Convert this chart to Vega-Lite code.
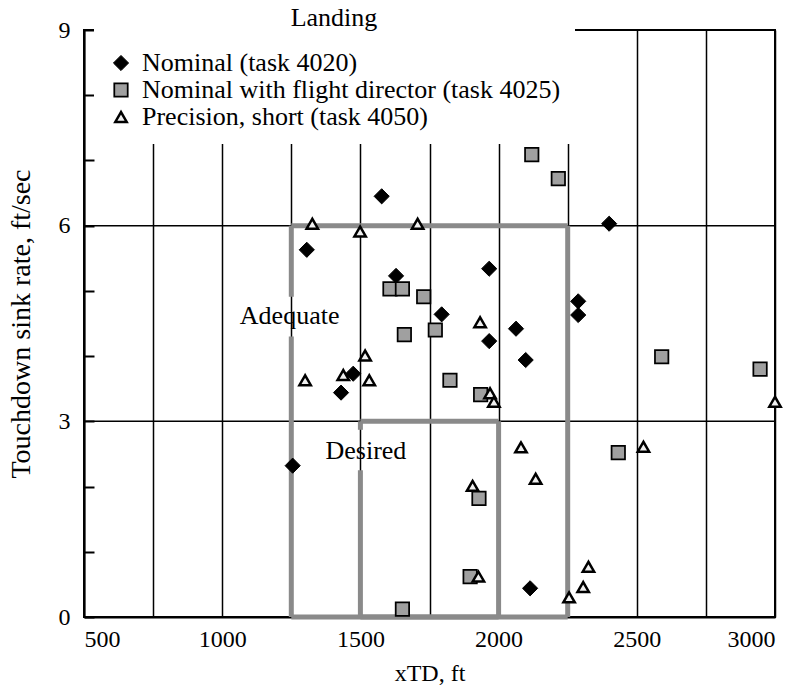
{
  "$schema": "https://vega.github.io/schema/vega-lite/v6.json",
  "width": 691,
  "height": 587,
  "autosize": {"type": "none"},
  "padding": {"left": 84, "top": 30, "right": 24, "bottom": 81},
  "background": "white",
  "config": {
    "font": "Liberation Serif",
    "view": {"stroke": "black", "strokeWidth": 2},
    "axis": {
      "labelFont": "Liberation Serif",
      "titleFont": "Liberation Serif",
      "labelFontSize": 24,
      "titleFontSize": 24,
      "titleFontWeight": "normal",
      "labelColor": "black",
      "titleColor": "black",
      "domainColor": "black",
      "domainWidth": 2,
      "tickColor": "black"
    }
  },
  "datasets": {
    "pts": [
      {"xtd": 1255, "sink": 2.32, "series": "Nominal (task 4020)"},
      {"xtd": 1306, "sink": 5.63, "series": "Nominal (task 4020)"},
      {"xtd": 1577, "sink": 6.45, "series": "Nominal (task 4020)"},
      {"xtd": 1629, "sink": 5.23, "series": "Nominal (task 4020)"},
      {"xtd": 1794, "sink": 4.64, "series": "Nominal (task 4020)"},
      {"xtd": 1966, "sink": 5.34, "series": "Nominal (task 4020)"},
      {"xtd": 1966, "sink": 4.23, "series": "Nominal (task 4020)"},
      {"xtd": 2063, "sink": 4.42, "series": "Nominal (task 4020)"},
      {"xtd": 2098, "sink": 3.94, "series": "Nominal (task 4020)"},
      {"xtd": 1474, "sink": 3.73, "series": "Nominal (task 4020)"},
      {"xtd": 1430, "sink": 3.44, "series": "Nominal (task 4020)"},
      {"xtd": 2400, "sink": 6.03, "series": "Nominal (task 4020)"},
      {"xtd": 2288, "sink": 4.84, "series": "Nominal (task 4020)"},
      {"xtd": 2288, "sink": 4.63, "series": "Nominal (task 4020)"},
      {"xtd": 2114, "sink": 0.44, "series": "Nominal (task 4020)"},
      {"xtd": 1607, "sink": 5.03, "series": "Nominal with flight director (task 4025)"},
      {"xtd": 1652, "sink": 5.03, "series": "Nominal with flight director (task 4025)"},
      {"xtd": 1729, "sink": 4.91, "series": "Nominal with flight director (task 4025)"},
      {"xtd": 1659, "sink": 4.33, "series": "Nominal with flight director (task 4025)"},
      {"xtd": 1771, "sink": 4.4, "series": "Nominal with flight director (task 4025)"},
      {"xtd": 1824, "sink": 3.63, "series": "Nominal with flight director (task 4025)"},
      {"xtd": 1935, "sink": 3.41, "series": "Nominal with flight director (task 4025)"},
      {"xtd": 2120, "sink": 7.09, "series": "Nominal with flight director (task 4025)"},
      {"xtd": 2216, "sink": 6.72, "series": "Nominal with flight director (task 4025)"},
      {"xtd": 2590, "sink": 3.99, "series": "Nominal with flight director (task 4025)"},
      {"xtd": 2946, "sink": 3.8, "series": "Nominal with flight director (task 4025)"},
      {"xtd": 2433, "sink": 2.52, "series": "Nominal with flight director (task 4025)"},
      {"xtd": 1929, "sink": 1.82, "series": "Nominal with flight director (task 4025)"},
      {"xtd": 1897, "sink": 0.62, "series": "Nominal with flight director (task 4025)"},
      {"xtd": 1652, "sink": 0.12, "series": "Nominal with flight director (task 4025)"},
      {"xtd": 1326, "sink": 6.03, "series": "Precision, short (task 4050)"},
      {"xtd": 1707, "sink": 6.03, "series": "Precision, short (task 4050)"},
      {"xtd": 1499, "sink": 5.91, "series": "Precision, short (task 4050)"},
      {"xtd": 1517, "sink": 4.01, "series": "Precision, short (task 4050)"},
      {"xtd": 1300, "sink": 3.63, "series": "Precision, short (task 4050)"},
      {"xtd": 1438, "sink": 3.71, "series": "Precision, short (task 4050)"},
      {"xtd": 1532, "sink": 3.63, "series": "Precision, short (task 4050)"},
      {"xtd": 1933, "sink": 4.52, "series": "Precision, short (task 4050)"},
      {"xtd": 1969, "sink": 3.43, "series": "Precision, short (task 4050)"},
      {"xtd": 1983, "sink": 3.3, "series": "Precision, short (task 4050)"},
      {"xtd": 2081, "sink": 2.6, "series": "Precision, short (task 4050)"},
      {"xtd": 2134, "sink": 2.12, "series": "Precision, short (task 4050)"},
      {"xtd": 1906, "sink": 2.01, "series": "Precision, short (task 4050)"},
      {"xtd": 1927, "sink": 0.62, "series": "Precision, short (task 4050)"},
      {"xtd": 2255, "sink": 0.3, "series": "Precision, short (task 4050)"},
      {"xtd": 2325, "sink": 0.77, "series": "Precision, short (task 4050)"},
      {"xtd": 2306, "sink": 0.46, "series": "Precision, short (task 4050)"},
      {"xtd": 2524, "sink": 2.61, "series": "Precision, short (task 4050)"},
      {"xtd": 3000, "sink": 3.3, "series": "Precision, short (task 4050)"}
    ],
    "hlines": [{"y": 3}, {"y": 6}],
    "boxes": [
      {"x": 1250, "y": 0, "x2": 2250, "y2": 0},
      {"x": 2250, "y": 0, "x2": 2250, "y2": 6},
      {"x": 1250, "y": 6, "x2": 2250, "y2": 6},
      {"x": 1250, "y": 0, "x2": 1250, "y2": 4.3},
      {"x": 1250, "y": 4.91, "x2": 1250, "y2": 6},
      {"x": 1500, "y": 0, "x2": 2000, "y2": 0},
      {"x": 2000, "y": 0, "x2": 2000, "y2": 3},
      {"x": 1500, "y": 3, "x2": 2000, "y2": 3},
      {"x": 1500, "y": 0, "x2": 1500, "y2": 2.25},
      {"x": 1500, "y": 2.87, "x2": 1500, "y2": 3}
    ],
    "labels": [
      {"x": 1244, "y": 4.62, "text": "Adequate"},
      {"x": 1520, "y": 2.55, "text": "Desired"}
    ]
  },
  "layer": [
    {
      "data": {"name": "hlines"},
      "mark": {"type": "rule", "color": "black", "strokeWidth": 1.5},
      "encoding": {
        "y": {
          "field": "y", "type": "quantitative",
          "scale": {"domain": [0, 9], "nice": false, "zero": true},
          "axis": {
            "values": [0, 1, 2, 3, 4, 5, 6, 7, 8, 9],
            "format": "d",
            "labelExpr": "datum.value % 3 === 0 ? datum.label : ''",
            "grid": false,
            "tickSize": -10,
            "tickWidth": 2,
            "labelPadding": 24,
            "title": "Touchdown sink rate, ft/sec",
            "titleFontSize": 28,
            "titlePadding": 23
          }
        }
      }
    },
    {
      "data": {"name": "boxes"},
      "mark": {"type": "rule", "color": "#8a8a8a", "strokeWidth": 5},
      "encoding": {
        "x": {"field": "x", "type": "quantitative"},
        "y": {"field": "y", "type": "quantitative"},
        "x2": {"field": "x2"},
        "y2": {"field": "y2"}
      }
    },
    {
      "data": {"name": "labels"},
      "mark": {"type": "text", "fontSize": 26, "font": "Liberation Serif", "color": "black"},
      "encoding": {
        "x": {"field": "x", "type": "quantitative"},
        "y": {"field": "y", "type": "quantitative"},
        "text": {"field": "text"}
      }
    },
    {
      "data": {"name": "pts"},
      "mark": {"type": "point", "filled": true, "stroke": "black", "opacity": 1, "strokeOpacity": 1, "fillOpacity": 1},
      "encoding": {
        "x": {
          "field": "xtd", "type": "quantitative",
          "scale": {"domain": [500, 3000], "nice": false, "zero": false},
          "axis": {
            "values": [500, 750, 1000, 1250, 1500, 1750, 2000, 2250, 2500, 2750, 3000],
            "labelExpr": "datum.value % 500 === 0 ? datum.label : ''",
            "format": "d",
            "ticks": false,
            "grid": true,
            "gridColor": "black",
            "gridWidth": 1.5,
            "gridOpacity": 1,
            "labelPadding": 10,
            "title": "xTD, ft",
            "titlePadding": 10
          }
        },
        "y": {"field": "sink", "type": "quantitative"},
        "shape": {
          "field": "series", "type": "nominal",
          "scale": {
            "domain": ["Nominal (task 4020)", "Nominal with flight director (task 4025)", "Precision, short (task 4050)"],
            "range": ["diamond", "square", "triangle-up"]
          },
          "legend": {
            "orient": "none",
            "legendX": 10,
            "legendY": -39,
            "title": "Landing",
            "titleAnchor": "middle",
            "titleFont": "Liberation Serif",
            "titleFontSize": 26,
            "titleFontWeight": "normal",
            "titleColor": "black",
            "titlePadding": 19,
            "labelFont": "Liberation Serif",
            "labelFontSize": 26,
            "labelColor": "black",
            "labelLimit": 700,
            "fillColor": "white",
            "padding": 14,
            "rowPadding": 1,
            "labelOffset": 8,
            "symbolStrokeColor": "black"
          }
        },
        "fill": {
          "field": "series", "type": "nominal",
          "scale": {
            "domain": ["Nominal (task 4020)", "Nominal with flight director (task 4025)", "Precision, short (task 4050)"],
            "range": ["black", "#a0a0a0", "#f0f0f0"]
          }
        },
        "strokeWidth": {
          "field": "series", "type": "nominal",
          "scale": {
            "domain": ["Nominal (task 4020)", "Nominal with flight director (task 4025)", "Precision, short (task 4050)"],
            "range": [1, 2.5, 3]
          }
        },
        "size": {
          "field": "series", "type": "nominal",
          "scale": {
            "domain": ["Nominal (task 4020)", "Nominal with flight director (task 4025)", "Precision, short (task 4050)"],
            "range": [230, 130, 360]
          }
        }
      }
    }
  ]
}
